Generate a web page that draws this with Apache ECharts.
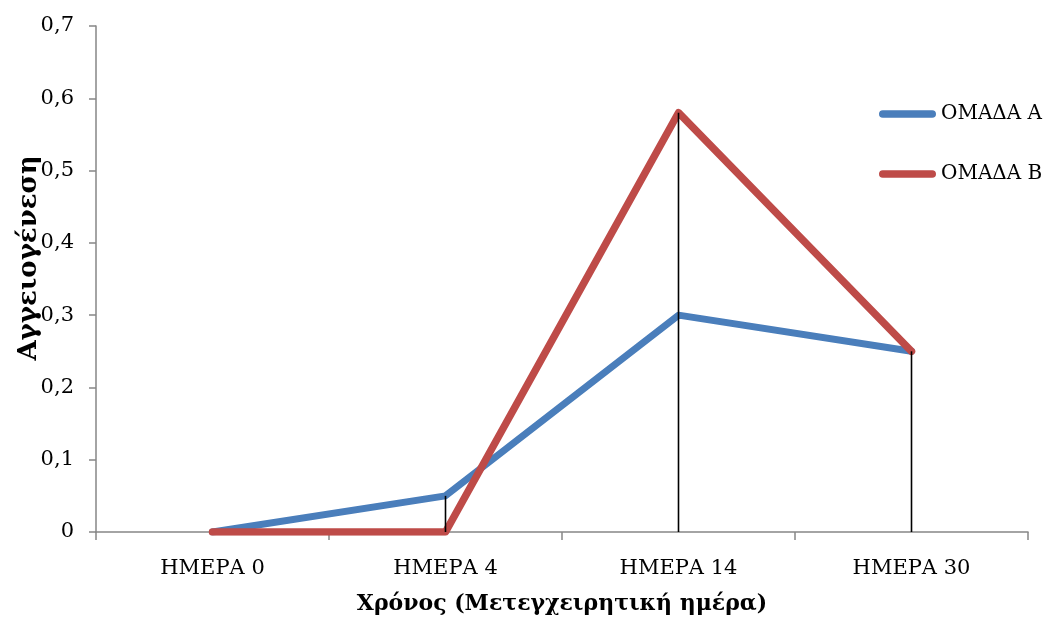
<!DOCTYPE html>
<html>
<head>
<meta charset="utf-8">
<script src="https://cdn.jsdelivr.net/npm/echarts@6/dist/echarts.min.js"></script>
<style>
html,body{margin:0;padding:0;background:#fff;}
#chart{width:1053px;height:620px;}
</style>
</head>
<body>
<div id="chart"></div>
<script>
var categories = ['ΗΜΕΡΑ 0', 'ΗΜΕΡΑ 4', 'ΗΜΕΡΑ 14', 'ΗΜΕΡΑ 30'];
var groupA = [0, 0.05, 0.30, 0.25];
var groupB = [0, 0, 0.58, 0.25];
var seriesNames = ['ΟΜΑΔΑ Α', 'ΟΜΑΔΑ Β'];
var yAxisTitle = 'Αγγειογένεση';
var xAxisTitle = 'Χρόνος (Μετεγχειρητική ημέρα)';

var dropValues = categories.map(function (_, i) { return Math.max(groupA[i], groupB[i]); });

var FONT = '"DejaVu Serif", serif';
var AXIS_COLOR = '#868686';
var stadium = 'path://M4,0 L56,0 A4,4 0 0 1 56,8 L4,8 A4,4 0 0 1 4,0 Z';

var chart = echarts.init(document.getElementById('chart'));
chart.setOption({
  animation: false,
  backgroundColor: '#ffffff',
  grid: { left: 96, right: 25, top: 26, bottom: 88, containLabel: false, outerBoundsMode: 'none' },
  legend: {
    orient: 'vertical',
    left: 874,
    top: 96,
    itemWidth: 57,
    itemHeight: 8,
    itemGap: 34,
    data: [
      { name: seriesNames[0], icon: stadium },
      { name: seriesNames[1], icon: stadium }
    ],
    textStyle: { fontFamily: FONT, fontSize: 20, color: '#000', lineHeight: 26 }
  },
  xAxis: {
    type: 'category',
    data: categories,
    boundaryGap: true,
    name: xAxisTitle,
    nameLocation: 'middle',
    nameGap: 61,
    nameTextStyle: { fontFamily: FONT, fontSize: 22, fontWeight: 'bold', color: '#000' },
    axisLine: { show: true, lineStyle: { color: AXIS_COLOR, width: 1.5 } },
    axisTick: { show: true, alignWithLabel: false, length: 8, lineStyle: { color: AXIS_COLOR, width: 1.5 } },
    axisLabel: { fontFamily: FONT, fontSize: 21, color: '#000', margin: 26 },
    splitLine: { show: false }
  },
  yAxis: {
    type: 'value',
    min: 0,
    max: 0.7,
    interval: 0.1,
    axisLine: { show: true, lineStyle: { color: AXIS_COLOR, width: 1.5 } },
    axisTick: { show: true, length: 7, lineStyle: { color: AXIS_COLOR, width: 1.5 } },
    axisLabel: {
      fontFamily: FONT, fontSize: 21, color: '#000', margin: 22,
      formatter: function (v) { return String(Math.round(v * 10) / 10).replace('.', ','); }
    },
    splitLine: { show: false }
  },
  graphic: [{
    type: 'text',
    x: 29,
    y: 258,
    rotation: Math.PI / 2,
    style: {
      text: yAxisTitle,
      fontFamily: FONT,
      fontSize: 26,
      fontWeight: 'bold',
      fill: '#000',
      align: 'center',
      verticalAlign: 'middle'
    }
  }],
  series: [
    {
      name: seriesNames[0],
      type: 'line',
      data: groupA,
      symbol: 'none',
      z: 2,
      itemStyle: { color: '#4a7ebb' },
      lineStyle: { color: '#4a7ebb', width: 7, cap: 'round', join: 'round' }
    },
    {
      name: seriesNames[1],
      type: 'line',
      data: groupB,
      symbol: 'none',
      z: 3,
      itemStyle: { color: '#be4b48' },
      lineStyle: { color: '#be4b48', width: 7.5, cap: 'round', join: 'round' }
    },
    {
      name: 'drop',
      type: 'bar',
      data: dropValues,
      barWidth: 1.6,
      z: 5,
      itemStyle: { color: '#000' },
      silent: true
    }
  ]
});
</script>
</body>
</html>
